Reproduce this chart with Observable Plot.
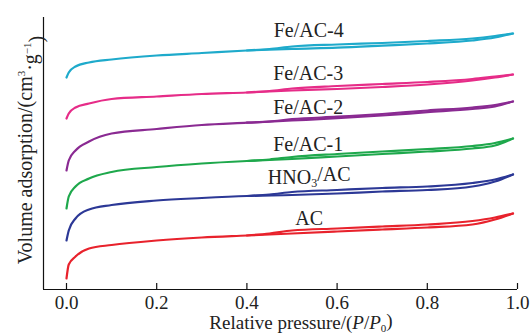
<!DOCTYPE html>
<html><head><meta charset="utf-8">
<script src="https://cdn.jsdelivr.net/npm/d3@7"></script>
<script src="https://cdn.jsdelivr.net/npm/@observablehq/plot@0.6"></script>
<style>body{margin:0;background:#fff} svg{display:block} svg text{font-family:"Liberation Serif","Times New Roman",serif !important;}</style>
</head><body><div id="chart"></div>
<script>
const seriesNames = ["AC", "HNO3/AC", "Fe/AC-1", "Fe/AC-2", "Fe/AC-3", "Fe/AC-4"];
const seriesColors = ["#e8222c", "#2c3896", "#1ea84c", "#8a2a92", "#e62c88", "#1eaacb"];
const adsP = [0, 0.005, 0.02, 0.05, 0.1, 0.2, 0.3, 0.4, 0.5, 0.6, 0.7, 0.8, 0.9, 0.95, 0.99];
const desP = [0.99, 0.95, 0.9, 0.8, 0.7, 0.6, 0.5, 0.45, 0.4];
const adsAC   = [11, 25, 33, 41, 44.5, 49, 52, 54, 56, 58, 60, 62, 65, 70, 76];
const desAC   = [76, 72, 68.5, 65, 63, 61, 59, 56, 54];
const adsHNO3 = [49, 59, 71, 80, 84.5, 89, 91.5, 93.5, 94.5, 96, 98, 99.5, 103, 108, 115];
const desHNO3 = [115, 110, 106.5, 103, 101.5, 99.5, 97.5, 95, 93.5];
const adsFe1  = [81, 93, 103, 111, 117.5, 122.5, 126, 128.5, 130.5, 133, 135.5, 138, 141, 144, 151];
const desFe1  = [151, 146.5, 143.5, 140.5, 138, 135.5, 132.5, 130, 128.5];
const adsFe2  = [119, 129, 139, 148, 156, 160.5, 164.5, 166.8, 169, 171.3, 174, 177.3, 180.5, 183, 188];
const desFe2  = [188, 184.5, 182, 179, 175.5, 172.8, 170.3, 168, 166.8];
const adsFe3  = [171, 176, 182, 186, 190.5, 193, 195.5, 197, 199, 200.5, 202.5, 205, 209, 212, 215];
const desFe3  = [215, 213, 210.5, 207.5, 205.5, 203.5, 201, 198.5, 197];
const adsFe4  = [212, 217, 223, 227, 230, 234, 236.5, 239, 240.7, 241.8, 243.8, 246, 249, 252, 256];
const desFe4  = [256, 253.5, 251, 248.5, 246.5, 245, 243, 240.5, 239];
const labelX = [0.538, 0.538, 0.536, 0.536, 0.536, 0.537];
const labelY = [64.7, 105.7, 138.3, 175.7, 209.7, 253];
const xTicks = [0, 0.2, 0.4, 0.6, 0.8, 1.0];
const xDomain = [-0.051, 1.0];
const yDomain = [0, 272];

const adsAll = [adsAC, adsHNO3, adsFe1, adsFe2, adsFe3, adsFe4];
const desAll = [desAC, desHNO3, desFe1, desFe2, desFe3, desFe4];
const rows = [];
seriesNames.forEach((s, i) => {
  adsAll[i].forEach((v, j) => rows.push({series: s, branch: s + "-ads", p: adsP[j], v}));
  desAll[i].forEach((v, j) => rows.push({series: s, branch: s + "-des", p: desP[j], v}));
});
const labels = seriesNames.map((s, i) => ({series: s, x: labelX[i], y: labelY[i]}));
const font = '"Liberation Serif", "Times New Roman", serif';

const chart = Plot.plot({
  width: 532, height: 333,
  marginLeft: 43, marginRight: 15, marginTop: 17, marginBottom: 44,
  style: {fontFamily: font, background: "#fff"},
  x: {domain: xDomain, axis: null},
  y: {domain: yDomain, axis: null},
  color: {domain: seriesNames, range: seriesColors},
  marks: [
    Plot.line(rows, {x: "p", y: "v", z: "branch", stroke: "series", strokeWidth: 2.2, curve: "monotone-x"}),
    Plot.ruleY([yDomain[0]], {stroke: "#111", strokeWidth: 1.2}),
    Plot.ruleX([xDomain[0]], {stroke: "#111", strokeWidth: 1.2}),
    Plot.ruleX(xTicks, {x: d => d, y1: 0, y2: 6, stroke: "#111", strokeWidth: 1.2}),
    Plot.text(xTicks, {x: d => d, y: 0, text: d => d.toFixed(1), dy: 19, lineAnchor: "bottom", fontSize: 19, fill: "#222"}),
    Plot.text(labels, {x: "x", y: "y", text: "series", lineAnchor: "bottom", fontSize: 20, fill: "#222"})
  ]
});
document.getElementById("chart").appendChild(chart);

const svg = d3.select(chart);
svg.selectAll("text").each(function() {
  if (this.textContent === "HNO3/AC") {
    const t = d3.select(this);
    t.text(null);
    t.append("tspan").text("HNO");
    t.append("tspan").attr("font-size", "12px").attr("dy", "0.3em").text("3");
    t.append("tspan").attr("dy", "-0.3em").text("/AC");
  }
});
// x axis title
const xl = svg.append("text").attr("x", 301).attr("y", 329).attr("text-anchor", "middle")
  .attr("font-size", 19).attr("fill", "#222");
xl.append("tspan").text("Relative pressure/(");
xl.append("tspan").attr("font-style", "italic").text("P");
xl.append("tspan").text("/");
xl.append("tspan").attr("font-style", "italic").text("P");
xl.append("tspan").attr("font-size", 11).attr("dy", "0.3em").text("0");
xl.append("tspan").attr("dy", "-0.3em").text(")");
// y axis title
const yl = svg.append("text").attr("transform", "translate(32,150) rotate(-90)").attr("text-anchor", "middle")
  .attr("font-size", 20).attr("fill", "#222");
yl.append("tspan").text("Volume adsorption/(cm");
yl.append("tspan").attr("font-size", 11).attr("dy", "-0.6em").text("3");
yl.append("tspan").attr("dy", "0.6em").text("·g");
yl.append("tspan").attr("font-size", 11).attr("dy", "-0.6em").text("−1");
yl.append("tspan").attr("dy", "0.6em").text(")");
</script></body></html>
